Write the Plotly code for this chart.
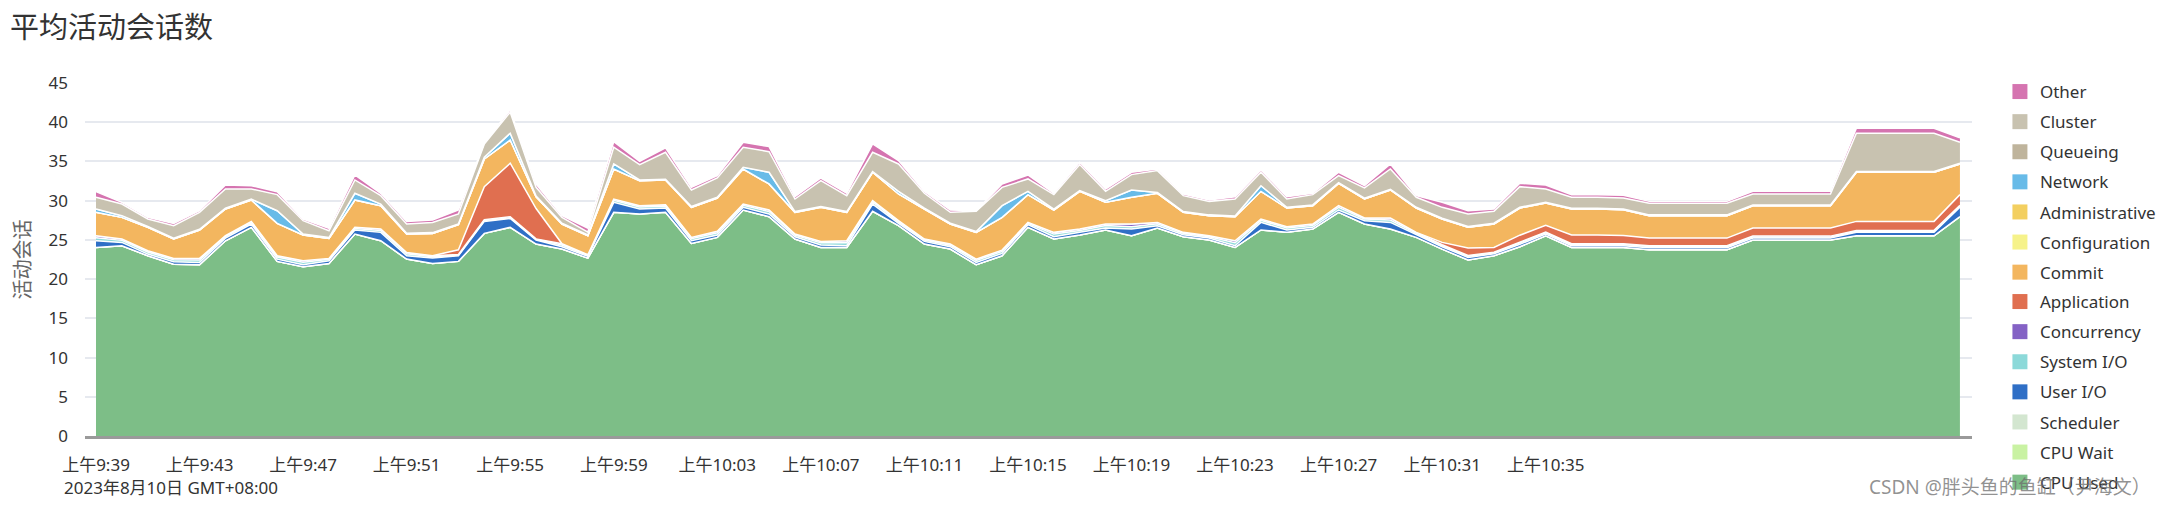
import pandas as pd
import plotly.graph_objects as go

# timestamps: one sample per minute, 上午9:39 .. 上午10:51 (2023-08-10)
times = pd.date_range("2023-08-10 09:39", "2023-08-10 10:51", freq="min")

cpu_used = [24.04, 24.26, 22.98, 21.91, 21.83, 24.89, 26.60, 22.26, 21.57, 22.00,
            25.74, 24.89, 22.55, 22.00, 22.26, 25.83, 26.60, 24.47, 23.83, 22.68,
            28.51, 28.30, 28.51, 24.55, 25.32, 28.81, 27.96, 25.11, 24.04, 24.04,
            28.64, 26.81, 24.47, 23.83, 21.83, 22.98, 26.60, 25.11, 25.62, 26.26,
            25.53, 26.51, 25.40, 24.98, 24.04, 26.26, 25.96, 26.38, 28.51, 27.02,
            26.38, 25.32, 23.83, 22.43, 22.98, 24.13, 25.53, 24.04, 24.04, 24.04,
            23.74, 23.74, 23.74, 23.74, 24.98, 24.98, 24.98, 24.98, 25.53, 25.53,
            25.53, 25.53, 27.96]
cpu_wait = [0, 0, 0, 0, 0, 0, 0, 0, 0, 0,
            0, 0, 0, 0, 0, 0, 0, 0, 0, 0,
            0, 0, 0, 0, 0, 0, 0, 0, 0, 0,
            0, 0, 0, 0, 0, 0, 0, 0, 0, 0,
            0, 0, 0, 0, 0, 0, 0, 0, 0, 0,
            0, 0, 0, 0, 0, 0, 0, 0, 0, 0,
            0, 0, 0, 0, 0, 0, 0, 0, 0, 0,
            0, 0, 0]
scheduler = [0, 0, 0, 0, 0, 0, 0, 0, 0, 0,
             0, 0, 0, 0, 0, 0, 0, 0, 0, 0,
             0, 0, 0, 0, 0, 0, 0, 0, 0, 0,
             0, 0, 0, 0, 0, 0, 0, 0, 0, 0,
             0, 0, 0, 0, 0, 0, 0, 0, 0, 0,
             0, 0, 0, 0, 0, 0, 0, 0, 0, 0,
             0, 0, 0, 0, 0, 0, 0, 0, 0, 0,
             0, 0, 0]
user_io = [0.85, 0.42, 0.21, 0.30, 0.30, 0.34, 0.42, 0.29, 0.26, 0.34,
           0.52, 1.07, 0.43, 0.68, 0.72, 1.53, 1.14, 0.51, 0.30, 0.22,
           1.28, 0.64, 0.55, 0.34, 0.30, 0.34, 0.34, 0.29, 0.30, 0.22,
           0.93, 0.30, 0.34, 0.30, 0.30, 0.30, 0.34, 0.29, 0.34, 0.25,
           0.85, 0.30, 0.26, 0.25, 0.22, 0.97, 0.30, 0.22, 0.30, 0.43,
           0.85, 0.34, 0.30, 0.34, 0.25, 0.32, 0.21, 0.22, 0.22, 0.22,
           0.26, 0.26, 0.26, 0.26, 0.25, 0.25, 0.25, 0.25, 0.43, 0.43,
           0.43, 0.43, 1.19]
system_io = [0.38, 0.26, 0.26, 0.26, 0.31, 0.18, 0.20, 0.26, 0.31, 0.18,
             0.20, 0.25, 0.25, 0.18, 0.10, 0.10, 0.10, 0.10, 0.22, 0.12,
             0.25, 0.25, 0.26, 0.26, 0.28, 0.25, 0.31, 0.20, 0.28, 0.38,
             0.26, 0.20, 0.18, 0.20, 0.25, 0.25, 0.17, 0.34, 0.25, 0.31,
             0.30, 0.25, 0.18, 0.18, 0.38, 0.26, 0.25, 0.25, 0.33, 0.20,
             0.30, 0.18, 0.15, 0.15, 0.12, 0.15, 0.15, 0.15, 0.15, 0.15,
             0.15, 0.15, 0.15, 0.15, 0.15, 0.15, 0.15, 0.15, 0.15, 0.15,
             0.15, 0.15, 0.15]
concurrency = [0.26, 0.17, 0.17, 0.17, 0.20, 0.12, 0.14, 0.17, 0.20, 0.12,
               0.14, 0.17, 0.17, 0.12, 0.05, 0.10, 0.10, 0.05, 0.15, 0.08,
               0.17, 0.17, 0.17, 0.17, 0.19, 0.17, 0.20, 0.14, 0.19, 0.25,
               0.17, 0.14, 0.12, 0.14, 0.17, 0.17, 0.12, 0.22, 0.17, 0.20,
               0.34, 0.17, 0.12, 0.12, 0.25, 0.17, 0.17, 0.17, 0.22, 0.14,
               0.26, 0.12, 0.10, 0.10, 0.08, 0.10, 0.10, 0.10, 0.10, 0.10,
               0.10, 0.10, 0.10, 0.10, 0.10, 0.10, 0.10, 0.10, 0.10, 0.10,
               0.10, 0.10, 0.10]
application = [0, 0, 0, 0, 0, 0, 0, 0, 0, 0,
               0, 0, 0, 0, 0.60, 4.23, 6.83, 3.87, 0, 0,
               0, 0, 0, 0, 0, 0, 0, 0, 0, 0,
               0, 0, 0, 0, 0, 0, 0, 0, 0, 0,
               0, 0, 0, 0, 0, 0, 0, 0, 0, 0,
               0, 0, 0.30, 0.94, 0.60, 0.90, 0.86, 1.11, 1.11, 1.06,
               0.98, 0.98, 0.98, 0.98, 1.03, 1.03, 1.03, 1.03, 1.15, 1.15,
               1.15, 1.15, 1.37]
commit = [2.98, 2.76, 2.98, 2.47, 3.62, 3.41, 2.73, 4.13, 3.28, 2.55,
          3.49, 2.98, 2.34, 2.85, 3.21, 3.53, 2.97, 1.50, 2.52, 2.43,
          3.83, 3.19, 3.15, 3.83, 4.25, 4.47, 3.32, 2.77, 4.34, 3.62,
          3.62, 3.40, 3.83, 2.55, 3.41, 4.17, 3.54, 2.85, 4.81, 2.77,
          3.41, 3.71, 2.55, 2.56, 3.07, 3.53, 2.38, 2.34, 2.85, 2.42,
          3.57, 3.10, 2.98, 2.64, 2.99, 3.46, 2.85, 3.32, 3.32, 3.28,
          2.86, 2.86, 2.86, 2.86, 2.85, 2.85, 2.85, 2.85, 6.26, 6.26,
          6.26, 6.26, 3.91]
configuration = [0, 0, 0, 0, 0, 0, 0, 0, 0, 0,
                 0, 0, 0, 0, 0, 0, 0, 0, 0, 0,
                 0, 0, 0, 0, 0, 0, 0, 0, 0, 0,
                 0, 0, 0, 0, 0, 0, 0, 0, 0, 0,
                 0, 0, 0, 0, 0, 0, 0, 0, 0, 0,
                 0, 0, 0, 0, 0, 0, 0, 0, 0, 0,
                 0, 0, 0, 0, 0, 0, 0, 0, 0, 0,
                 0, 0, 0]
administrative = [0, 0, 0, 0, 0, 0, 0, 0, 0, 0,
                  0, 0, 0, 0, 0, 0, 0, 0, 0, 0,
                  0, 0, 0, 0, 0, 0, 0, 0, 0, 0,
                  0, 0, 0, 0, 0, 0, 0, 0, 0, 0,
                  0, 0, 0, 0, 0, 0, 0, 0, 0, 0,
                  0, 0, 0, 0, 0, 0, 0, 0, 0, 0,
                  0, 0, 0, 0, 0, 0, 0, 0, 0, 0,
                  0, 0, 0]
network = [0.43, 0.22, 0.10, 0.10, 0.10, 0.10, 0.10, 1.61, 0.12, 0.10,
           0.85, 0.21, 0.10, 0.10, 0.10, 0.21, 0.86, 0.10, 0.10, 0.10,
           0.64, 0.10, 0.10, 0.10, 0.10, 0.22, 1.49, 0.10, 0.10, 0.10,
           0.10, 0.34, 0.10, 0.10, 0.10, 1.49, 0.42, 0.10, 0.10, 0.21,
           0.93, 0.10, 0.10, 0.10, 0.10, 0.72, 0.10, 0.10, 0.10, 0.10,
           0.10, 0.10, 0.10, 0.10, 0.10, 0.10, 0.10, 0.10, 0.10, 0.10,
           0.10, 0.10, 0.10, 0.10, 0.10, 0.10, 0.10, 0.10, 0.10, 0.10,
           0.10, 0.10, 0.10]
queueing = [0, 0, 0, 0, 0, 0, 0, 0, 0, 0,
            0, 0, 0, 0, 0, 0, 0, 0, 0, 0,
            0, 0, 0, 0, 0, 0, 0, 0, 0, 0,
            0, 0, 0, 0, 0, 0, 0, 0, 0, 0,
            0, 0, 0, 0, 0, 0, 0, 0, 0, 0,
            0, 0, 0, 0, 0, 0, 0, 0, 0, 0,
            0, 0, 0, 0, 0, 0, 0, 0, 0, 0,
            0, 0, 0]
cluster = [1.49, 1.48, 0.96, 1.60, 2.15, 2.45, 1.30, 2.05, 1.71, 0.88,
           1.70, 1.07, 1.18, 1.30, 1.26, 1.70, 2.68, 1.10, 0.75, 0.37,
           2.13, 1.95, 3.43, 2.11, 2.45, 2.55, 2.63, 1.60, 3.30, 2.03,
           2.45, 3.49, 1.90, 1.39, 2.58, 2.34, 1.58, 1.86, 3.31, 1.19,
           1.96, 2.79, 2.03, 1.72, 2.15, 1.71, 1.05, 1.31, 0.88, 1.31,
           2.58, 1.27, 1.39, 1.60, 1.52, 2.63, 1.69, 1.39, 1.39, 1.39,
           1.47, 1.47, 1.47, 1.47, 1.39, 1.39, 1.39, 1.39, 4.88, 4.88,
           4.88, 4.88, 2.67]
other = [0.72, 0.22, 0.21, 0.30, 0.21, 0.51, 0.42, 0.38, 0.21, 0.30,
         0.64, 0.30, 0.34, 0.30, 0.51, 0.13, 0.29, 0.40, 0.22, 0.50,
         0.72, 0.42, 0.55, 0.34, 0.30, 0.64, 0.64, 0.30, 0.34, 0.30,
         1.06, 0.43, 0.25, 0.30, 0.08, 0.43, 0.51, 0.17, 0.29, 0.30,
         0.30, 0.21, 0.21, 0.18, 0.30, 0.30, 0.30, 0.17, 0.43, 0.29,
         0.64, 0.21, 0.64, 0.42, 0.30, 0.42, 0.51, 0.34, 0.34, 0.34,
         0.25, 0.25, 0.25, 0.25, 0.34, 0.34, 0.34, 0.34, 0.63, 0.63,
         0.63, 0.63, 0.55]

tick_times = ["2023-08-10 09:39", "2023-08-10 09:43", "2023-08-10 09:47", "2023-08-10 09:51",
              "2023-08-10 09:55", "2023-08-10 09:59", "2023-08-10 10:03", "2023-08-10 10:07",
              "2023-08-10 10:11", "2023-08-10 10:15", "2023-08-10 10:19", "2023-08-10 10:23",
              "2023-08-10 10:27", "2023-08-10 10:31", "2023-08-10 10:35"]
tick_labels = ["上午9:39", "上午9:43", "上午9:47", "上午9:51", "上午9:55", "上午9:59",
               "上午10:03", "上午10:07", "上午10:11", "上午10:15", "上午10:19", "上午10:23",
               "上午10:27", "上午10:31", "上午10:35"]

# bottom -> top stacking order
series = [
    ("CPU Used", cpu_used, "#7dbe87"),
    ("CPU Wait", cpu_wait, "#c9f2a3"),
    ("Scheduler", scheduler, "#d3e6d0"),
    ("User I/O", user_io, "#2f6fc6"),
    ("System I/O", system_io, "#8cd9d9"),
    ("Concurrency", concurrency, "#8462c5"),
    ("Application", application, "#e06f50"),
    ("Commit", commit, "#f3b65f"),
    ("Configuration", configuration, "#f6f28a"),
    ("Administrative", administrative, "#f3cf60"),
    ("Network", network, "#68bbe8"),
    ("Queueing", queueing, "#bfb49c"),
    ("Cluster", cluster, "#c8c2b0"),
    ("Other", other, "#d574b0"),
]

FONT = "Noto Sans, Noto Sans CJK SC, sans-serif"

fig = go.Figure()
for name, vals, col in series:
    fig.add_trace(go.Scatter(
        x=times, y=vals, name=name, mode="lines", stackgroup="one",
        line=dict(color="white", width=1.5), fillcolor=col,
        showlegend=False, hoverinfo="skip"))

# legend entries (square swatches), top item = Other; split over two legend boxes
for k, (name, vals, col) in enumerate(reversed(series)):
    fig.add_trace(go.Scatter(
        x=[None], y=[None], name=name, mode="markers", legendgroup=name,
        legend="legend" if k < 7 else "legend2",
        marker=dict(symbol="square", size=15, color=col), showlegend=True))

legend_common = dict(x=1.0148, xanchor="left", yanchor="top",
                     traceorder="grouped", tracegroupgap=5,
                     font=dict(size=17, color="#333333"), bgcolor="rgba(0,0,0,0)")

fig.update_layout(
    width=2160, height=498,
    margin=dict(l=77, r=196, t=75, b=70, autoexpand=False),
    paper_bgcolor="white", plot_bgcolor="white",
    font=dict(family=FONT, size=17, color="#333333"),
    title=dict(text="平均活动会话数", x=2 / 2160, xanchor="left", xref="container",
               y=1 - 20 / 498, yanchor="middle", yref="container",
               font=dict(size=29, color="#333333", family=FONT)),
    legend=dict(y=1.0255, **legend_common),
    legend2=dict(y=0.4306, **legend_common),
    showlegend=True,
)
fig.update_xaxes(
    type="date",
    range=["2023-08-10 09:38:34.5", "2023-08-10 10:51:28"],
    tickvals=tick_times, ticktext=tick_labels, tickangle=0,
    showgrid=False, showline=True, linecolor="#9a9a9a", linewidth=3,
    ticks="", ticklabelstandoff=12, zeroline=False,
    tickfont=dict(size=17, color="#333333"),
)
fig.update_yaxes(
    range=[0, 45], dtick=5, tick0=0,
    showgrid=True, gridcolor="rgba(214,219,228,0.6)", gridwidth=2,
    zeroline=False, ticks="", ticklabelstandoff=16,
    layer="above traces",
    tickfont=dict(size=17, color="#333333"),
    title=dict(text="活动会话", standoff=12, font=dict(size=20, color="#666666")),
)
fig.add_annotation(text="2023年8月10日 GMT+08:00", xref="paper", yref="paper",
                   x=(62 - 85) / 1887, xanchor="left", y=-(487 - 436) / 353, yanchor="middle",
                   showarrow=False, font=dict(size=17, color="#333333"))
fig.add_annotation(text="CSDN @胖头鱼的鱼缸（尹海文）", xref="paper", yref="paper",
                   x=(2153 - 85) / 1887, xanchor="right", y=-(487 - 436) / 353, yanchor="middle",
                   showarrow=False, font=dict(size=19, color="rgba(110,110,110,0.75)"))

fig.write_html("out.html")
